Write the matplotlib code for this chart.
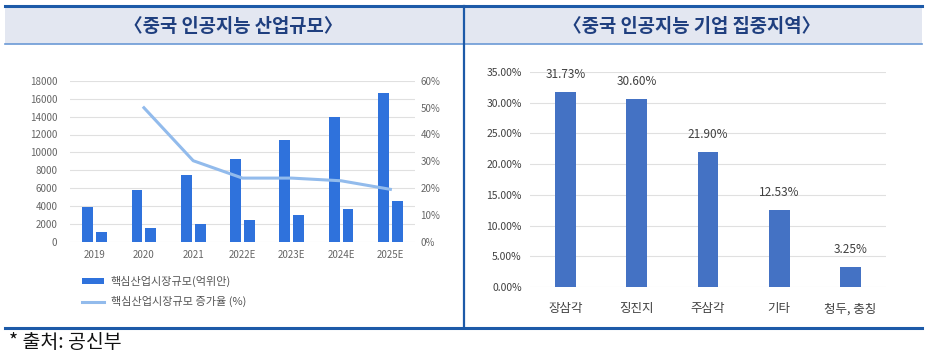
import numpy as np
import matplotlib
matplotlib.use('Agg')
import matplotlib.pyplot as plt
from matplotlib.patches import Rectangle
from matplotlib.lines import Line2D

plt.rcParams['font.family'] = ['Noto Sans CJK KR', 'DejaVu Sans']

# left chart data
years = ['2019', '2020', '2021', '2022E', '2023E', '2024E', '2025E']
market = [3850, 5750, 7450, 9220, 11390, 13960, 16620]
market2 = [1120, 1490, 1940, 2390, 3020, 3700, 4550]
growth = [np.nan, 50.0, 30.2, 23.7, 23.7, 22.7, 19.5]

# right chart data
regions = ['장삼각', '징진지', '주삼각', '기타', '청두, 충칭']
shares = [31.73, 30.60, 21.90, 12.53, 3.25]

W, H = 926, 353
fig = plt.figure(figsize=(W / 100, H / 100), dpi=100)

def fx(px):
    return px / W

def fy(py):
    return 1 - py / H

# frame: header band and lines
fig.patches.append(Rectangle((fx(5), fy(44)), fx(917), 37 / H, transform=fig.transFigure,
                             facecolor='#e3e7f1', edgecolor='none', zorder=0))
fig.add_artist(Line2D([fx(5), fx(922)], [fy(6), fy(6)], color='#1d5aa8', lw=2.2))
fig.add_artist(Line2D([fx(5), fx(922)], [fy(44), fy(44)], color='#6b9ad6', lw=1.2))
fig.add_artist(Line2D([fx(5), fx(922)], [fy(328), fy(328)], color='#1d5aa8', lw=2.2))
fig.add_artist(Line2D([fx(463.5), fx(463.5)], [fy(6), fy(328)], color='#1d5aa8', lw=1.6))

title_color = '#1f3f7f'
fig.text(fx(233), fy(26), '〈중국 인공지능 산업규모〉', ha='center', va='center',
         fontsize=13.5, fontweight='bold', color=title_color)
fig.text(fx(692), fy(26), '〈중국 인공지능 기업 집중지역〉', ha='center', va='center',
         fontsize=13.5, fontweight='bold', color=title_color)
fig.text(fx(9), fy(342), '* 출처: 공신부', ha='left', va='center', fontsize=14, color='#111111')

# left chart
ax = fig.add_axes([fx(70), fy(241.5), fx(345), 160.5 / H])
x = np.arange(len(years))
bw = 0.22
ax.bar(x - 0.14, market, bw, color='#2f72dc', label='핵심산업시장규모(억위안)', zorder=2)
ax.bar(x + 0.14, market2, bw, color='#2f72dc', zorder=2)
ax.set_xlim(-0.5, 6.5)
ax.set_ylim(0, 18000)
ax.set_yticks(np.arange(0, 18001, 2000))
ax.set_xticks(x)
ax.set_xticklabels(years)
ax.grid(axis='y', color='#e0e0e0', lw=0.8, zorder=0)
for s in ax.spines.values():
    s.set_visible(False)
ax.tick_params(length=0, labelsize=7, colors='#666666', pad=6)
ax.tick_params(axis='y', pad=9)

ax2 = ax.twinx()
ax2.plot(x, growth, color='#92bbec', lw=2.2, label='핵심산업시장규모 증가율 (%)', zorder=3)
ax2.set_ylim(0, 60)
ax2.set_yticks(np.arange(0, 61, 10))
ax2.set_yticklabels([f'{v}%' for v in range(0, 61, 10)])
for s in ax2.spines.values():
    s.set_visible(False)
ax2.tick_params(length=0, labelsize=7, colors='#666666', pad=4)

h1, l1 = ax.get_legend_handles_labels()
h2, l2 = ax2.get_legend_handles_labels()
fig.legend(h1 + h2, l1 + l2, loc='upper left', bbox_to_anchor=(fx(72), fy(266)),
           frameon=False, fontsize=8, handlelength=2.0, handleheight=0.5,
           handletextpad=0.6, labelspacing=0.8, labelcolor='#555555')

# right chart
bx = fig.add_axes([fx(530), fy(287), fx(356), 215 / H])
xr = np.arange(len(regions))
bx.bar(xr, shares, 0.29, color='#4472c4', zorder=2)
for xi, v in zip(xr, shares):
    bx.annotate(f'{v:.2f}%', (xi, v), xytext=(0, 8), textcoords='offset points',
                ha='center', va='bottom', fontsize=8.5, color='#404040')
bx.set_xlim(-0.5, 4.5)
bx.set_ylim(0, 35)
bx.set_yticks(np.arange(0, 35.1, 5))
bx.set_yticklabels([f'{v:.2f}%' for v in np.arange(0, 35.1, 5)])
bx.set_xticks(xr)
bx.set_xticklabels(regions)
bx.grid(axis='y', color='#e0e0e0', lw=0.8, zorder=0)
for s in bx.spines.values():
    s.set_visible(False)
bx.tick_params(length=0, colors='#404040')
bx.tick_params(axis='y', labelsize=7.5, pad=6)
bx.tick_params(axis='x', labelsize=9, pad=11)

fig.savefig('out.png', dpi=100)
